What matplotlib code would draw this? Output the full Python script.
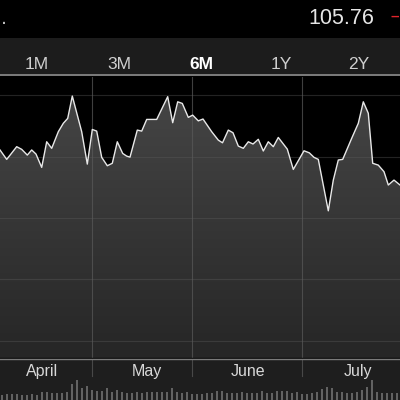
import numpy as np
import matplotlib
matplotlib.use("Agg")
import matplotlib.pyplot as plt
from matplotlib.colors import LinearSegmentedColormap
from matplotlib.patches import Polygon
from matplotlib.lines import Line2D

# price line (x = trading session, y = price)
day = [0, 1.34, 3.34, 4.34, 5.46, 6.34, 7.2, 8.34, 9.34, 10.34,
       11.66, 12.66, 13.54, 14.46, 16.34, 17.46, 18.46, 19.34, 20.34, 21.46,
       22.46, 23.46, 24.54, 25.34, 26.0, 27.46, 28.34, 29.34, 31.34, 33.54,
       34.54, 35.54, 36.46, 37.66, 38.54, 39.66, 40.6, 42.34, 43.66, 44.5,
       45.66, 46.6, 47.66, 48.66, 49.66, 50.6, 51.66, 52.66, 53.66, 54.66,
       55.66, 57.46, 58.66, 60.8, 61.86, 62.8, 63.66, 65.66, 66.66, 67.66,
       68.54, 70.34, 71.66, 72.66, 73.66, 74.54, 75.66, 76.8, 77.66, 78.8, 80.0]
price = [107.32, 106.86, 107.48, 107.35, 107.07, 107.32, 107.12, 106.47, 107.72, 107.40,
         108.21, 108.62, 108.86, 109.95, 108.21, 106.63, 108.32, 108.24, 106.96, 106.55,
         106.67, 107.72, 107.15, 107.02, 106.97, 108.29, 108.24, 108.81, 108.81, 109.92,
         108.65, 109.67, 109.59, 108.91, 109.02, 108.74, 108.83, 108.21, 107.80, 107.67,
         108.29, 108.16, 107.51, 107.40, 107.72, 107.61, 107.84, 107.27, 107.72, 107.48,
         107.93, 107.36, 106.37, 107.28, 107.18, 106.96, 106.86, 104.35, 105.85, 106.83,
         106.86, 107.89, 108.62, 109.67, 109.11, 106.67, 106.58, 106.26, 105.61, 105.85, 105.61]

# daily volume (millions)
volume_m = [5, 5.7, 5.7, 5.7, 5, 5, 5.7, 5, 8.3, 8.3,
            6.7, 7.3, 7.3, 8.3, 16, 20, 11.7, 14.3, 10, 9,
            9, 11.7, 8.3, 10, 8.3, 7.3, 6.7, 8.3, 7.3, 8.3,
            8.3, 7.7, 8.3, 8.3, 11.7, 8.3, 6.7, 8.3, 5.7, 5.7,
            5.7, 6.7, 6.7, 9, 9, 6.7, 6.7, 7.3, 8.3, 6.7,
            6.7, 6.7, 9, 7.3, 7.3, 9, 9, 9, 7.3, 8.3,
            5.7, 5.7, 6.7, 8.3, 10.7, 13.3, 11.7, 8.3, 7.7, 6.7,
            7.3, 8.3, 10, 12.7, 20, 8.3, 7.3, 7.3, 6.7, 6.7]

months = ["April", "May", "June", "July"]
month_mid = [8.4, 29.4, 49.6, 71.6]
month_start = [18.4, 38.4, 60.4]
periods = ["1M", "3M", "6M", "1Y", "2Y"]
selected = "6M"
last_price = "105.76"
price_grid = [98, 101, 104, 107, 110]

fnt = "Liberation Sans"
fig = plt.figure(figsize=(4, 4), dpi=100, facecolor="black")

# header text
fig.text(0.003, 0.94, ".", color="#bbbbbb", fontsize=15.5, family=fnt, ha="left", va="baseline")
fig.text(0.854, 0.94, last_price, color="#e6e6e6", fontsize=15.5, family=fnt, ha="center", va="baseline")
fig.text(0.9985, 0.948, "\u2013", color="#e0242b", fontsize=11, family=fnt, ha="right", va="baseline",
         weight="bold")

# period tabs
tab = fig.add_axes([0, 0.81, 1, 0.095])
tab.set_axis_off()
tab.add_patch(plt.Rectangle((0, 0), 1, 1, transform=tab.transAxes, color="#1c1c1c"))
tab_x = [0.0925, 0.2975, 0.5025, 0.704, 0.897]
for p, x in zip(periods, tab_x):
    bold = p == selected
    tab.text(x, 0.184, p, transform=tab.transAxes, ha="center", va="baseline",
             fontsize=12.5, family=fnt, weight="bold" if bold else "normal",
             color="white" if bold else "#cfcfcf")

# main chart
ax = fig.add_axes([0, 0.1025, 1, 0.705])
ax.set_facecolor("#1b1b1b")
ymin, ymax = 97.12, 110.88
verts = np.column_stack([np.r_[day[0], day, day[-1]], np.r_[ymin, price, ymin]])
poly = Polygon(verts, closed=True, facecolor="none", edgecolor="none")
ax.add_patch(poly)
cmap = LinearSegmentedColormap.from_list("fill", ["#262626", "#474747"])
grad = np.linspace(1, 0, 256).reshape(-1, 1)
im = ax.imshow(grad, extent=[0, 80, ymin, ymax], aspect="auto", cmap=cmap,
               origin="upper", zorder=1, vmin=0, vmax=1)
im.set_clip_path(poly)
for g in price_grid:
    ax.axhline(g, color="#5a5a5a", lw=0.8, alpha=0.4, zorder=2)
for m in month_start:
    ax.axvline(m, color="#5a5a5a", lw=0.8, alpha=0.7, zorder=2)
ax.plot(day, price, color="#e8e8e8", lw=1.0, zorder=3)
ax.set_xlim(0, 80)
ax.set_ylim(ymin, ymax)
ax.set_axis_off()

# month labels + volume
bot = fig.add_axes([0, 0, 1, 0.1025])
bot.add_patch(plt.Rectangle((0, 0), 1, 1, transform=bot.transAxes, color="#1e1e1e", zorder=0))
bot.bar(np.arange(len(volume_m)) + 0.35, volume_m, width=0.42, color="#626262", zorder=1)
for m in month_start:
    bot.axvline(m, ymin=0.585, ymax=1, color="#5a5a5a", lw=0.8, alpha=0.7)
for name, x in zip(months, month_mid):
    bot.text(x, 0.585, name, transform=bot.get_xaxis_transform(), ha="center",
             va="baseline", fontsize=11.5, family=fnt, color="#d8d8d8")
bot.set_xlim(0, 80)
bot.set_ylim(0, 41)
bot.set_axis_off()

# separators
fig.add_artist(Line2D([0, 1], [1 - 75 / 400] * 2, color="#8c8c8c", lw=1.2))
fig.add_artist(Line2D([0, 1], [1 - 357.8 / 400] * 2, color="#050505", lw=1.0))
fig.add_artist(Line2D([0, 1], [1 - 359.3 / 400] * 2, color="#7a7a7a", lw=1.0))

fig.savefig("out.png", dpi=100, facecolor="black")
